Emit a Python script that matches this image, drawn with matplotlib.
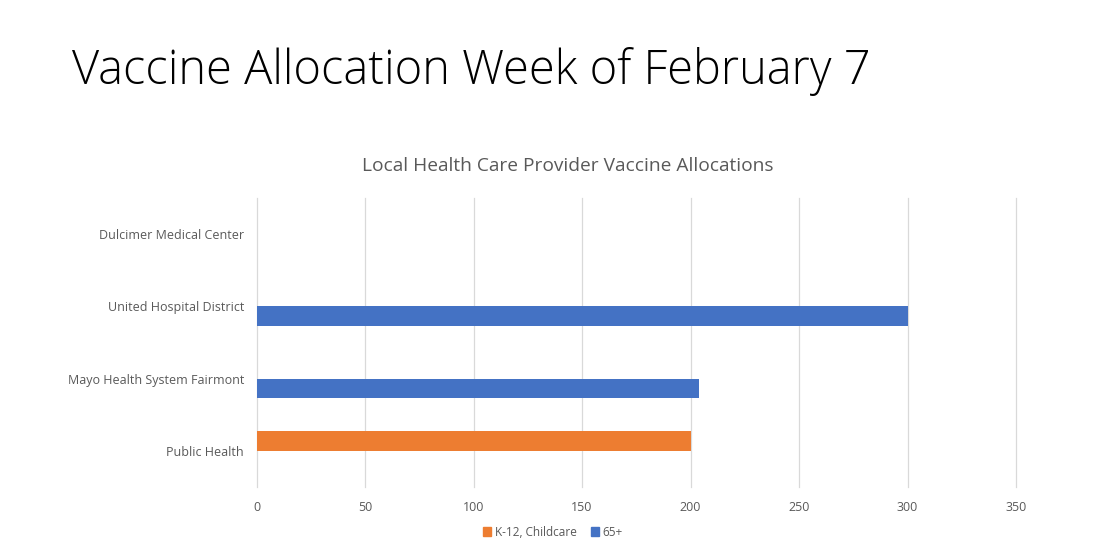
import numpy as np
import matplotlib.pyplot as plt
from matplotlib.patches import Patch

# chart data
providers = ['Public Health', 'Mayo Health System Fairmont',
             'United Hospital District', 'Dulcimer Medical Center']
k12_childcare = [200, 0, 0, 0]
age_65_plus = [0, 204, 300, 0]
series_names = ['K-12, Childcare', '65+']
x_ticks = [0, 50, 100, 150, 200, 250, 300, 350]

orange = '#ed7d31'
blue = '#4472c4'
gray_text = '#595959'

plt.rcParams['font.family'] = ['Open Sans', 'DejaVu Sans']

fig = plt.figure(figsize=(10.96, 5.57), dpi=100)
fig.patch.set_facecolor('white')

# slide title
fig.text(72 / 1096, 1 - 72 / 557, 'Vaccine Allocation Week of February 7',
         fontsize=33.8, fontweight='light', color='black', va='center', ha='left')

ax = fig.add_axes([256.5 / 1096, 1 - 487 / 557, (1016 - 256.5) / 1096, (487 - 198) / 557])

y = np.arange(len(providers))
h = 0.27
ax.barh(y + h / 2, k12_childcare, height=h, color=orange, zorder=3)
ax.barh(y - h / 2, age_65_plus, height=h, color=blue, zorder=3)

ax.set_xlim(0, 350)
ax.set_ylim(-0.5, 3.5)
ax.set_xticks(x_ticks)
ax.set_yticks(y)
ax.set_yticklabels(providers)
ax.xaxis.grid(True, color='#d9d9d9', linewidth=0.9, zorder=0)
for gl in ax.get_xgridlines():
    gl.set_clip_on(False)
for s in ax.spines.values():
    s.set_visible(False)
ax.tick_params(axis='both', length=0, colors=gray_text, labelsize=9)
ax.tick_params(axis='x', pad=10)
ax.tick_params(axis='y', pad=9)

fig.text(568 / 1096, 1 - 166 / 557, 'Local Health Care Provider Vaccine Allocations',
         fontsize=13.8, color=gray_text, ha='center', va='center')

handles = [Patch(color=orange), Patch(color=blue)]
fig.legend(handles, series_names, loc='center', bbox_to_anchor=(553 / 1096, 1 - 532 / 557),
           ncol=2, frameon=False, fontsize=8.5, labelcolor=gray_text,
           handlelength=0.7, handleheight=0.7, handletextpad=0.3, columnspacing=1.2)

fig.savefig('out.png', dpi=100)
